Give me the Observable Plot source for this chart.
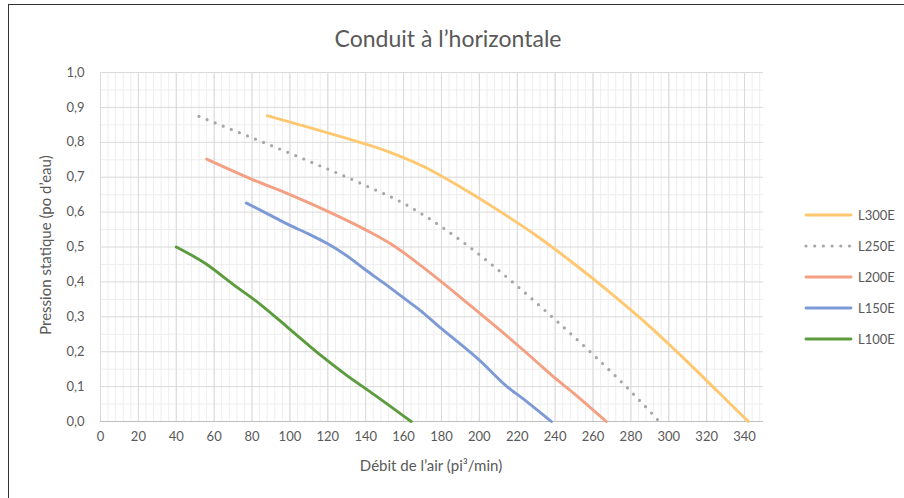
<!DOCTYPE html>
<html>
<head>
<meta charset="utf-8">
<script src="https://cdn.jsdelivr.net/npm/d3@7"></script>
<script src="https://cdn.jsdelivr.net/npm/@observablehq/plot@0.6"></script>
<style>
  html, body { margin: 0; padding: 0; background: #fff; }
  #wrap { position: relative; width: 904px; height: 498px; overflow: hidden; font-family: Lato, "Open Sans", sans-serif; color: #595959; }
  #frame { position: absolute; left: 8px; top: 4px; width: 900px; height: 500px; border-left: 1.5px solid #333; border-top: 1.5px solid #333; box-sizing: border-box; pointer-events: none; }
  #title { position: absolute; left: 0; width: 896px; top: 24px; text-align: center; font-size: 23px; }
  #labels { position: absolute; left: 0; top: 0; pointer-events: none; }
  #legend { position: absolute; left: 804px; top: 0; }
  .li { position: absolute; left: 0; height: 20px; display: flex; align-items: center; font-size: 13px; white-space: nowrap; }
  .li svg { margin-right: 5px; }
  #chart { position: absolute; left: 0; top: 0; }
</style>
</head>
<body>
<div id="wrap">
  <div id="chart"></div>
  <div id="title">Conduit à l’horizontale</div>
  <svg id="labels" width="904" height="498" font-family="Lato, 'Open Sans', sans-serif" fill="#595959" font-size="15">
    <text transform="translate(47,245) rotate(-90)" text-anchor="middle" dominant-baseline="middle">Pression statique (po d’eau)</text>
    <text x="431" y="467" text-anchor="middle" dominant-baseline="middle">Débit de l’air (pi³/min)</text>
  </svg>
  <div id="legend"></div>
  <div id="frame"></div>
</div>
<script>
// ---- Data ----
const seriesNames = ["L300E", "L250E", "L200E", "L150E", "L100E"];
const seriesColors = ["#FFC870", "#A6A6A6", "#F3A083", "#7E9AD6", "#5C9C3E"];

// airflow (pi³/min) and static pressure (po d'eau)
const L300E_x = [88, 110, 130, 150, 170, 190, 210, 230, 250, 270, 290, 310, 326, 342];
const L300E_y = [0.876, 0.843, 0.811, 0.777, 0.732, 0.672, 0.605, 0.533, 0.452, 0.365, 0.272, 0.17, 0.085, 0];

const L250E_x = [52, 80, 110, 140, 160, 180, 200, 220, 240, 260, 280, 295];
const L250E_y = [0.874, 0.813, 0.746, 0.676, 0.625, 0.558, 0.478, 0.388, 0.292, 0.192, 0.086, 0];

const L200E_x = [56, 80, 100, 120, 140, 155, 170, 190, 210, 230, 240, 250, 267];
const L200E_y = [0.752, 0.694, 0.65, 0.602, 0.549, 0.503, 0.443, 0.356, 0.266, 0.172, 0.124, 0.08, 0];

const L150E_x = [77, 90, 100, 110, 120, 130, 140, 150, 160, 170, 180, 190, 200, 214, 225, 238];
const L150E_y = [0.626, 0.59, 0.562, 0.537, 0.509, 0.475, 0.434, 0.395, 0.354, 0.313, 0.266, 0.222, 0.176, 0.103, 0.057, 0];

const L100E_x = [40, 55, 70, 85, 100, 115, 130, 145, 164];
const L100E_y = [0.5, 0.454, 0.393, 0.333, 0.264, 0.195, 0.132, 0.075, 0];

// axis ticks
const xTicks = [0, 20, 40, 60, 80, 100, 120, 140, 160, 180, 200, 220, 240, 260, 280, 300, 320, 340];
const yTicks = [0, 0.1, 0.2, 0.3, 0.4, 0.5, 0.6, 0.7, 0.8, 0.9, 1.0];
const xMinorTicks = d3.range(0, 350, 4);
const yMinorTicks = [0.05, 0.15, 0.25, 0.35, 0.45, 0.55, 0.65, 0.75, 0.85, 0.95];

// ---- Build table ----
const xs = [L300E_x, L250E_x, L200E_x, L150E_x, L100E_x];
const ys = [L300E_y, L250E_y, L200E_y, L150E_y, L100E_y];
const rows = seriesNames.map((name, i) => xs[i].map((x, j) => ({series: name, x, y: ys[i][j]})));

const fmt = d => d3.format(".1f")(d).replace(".", ",");

const lineMarks = rows.map((data, i) => {
  const dotted = seriesNames[i] === "L250E";
  return Plot.line(data, {
    x: "x", y: "y", curve: "monotone-x",
    stroke: seriesColors[i],
    strokeWidth: dotted ? 3.2 : 2.9,
    strokeDasharray: dotted ? "0 8.7" : null,
    strokeLinecap: "round"
  });
});

const chart = Plot.plot({
  width: 904,
  height: 498,
  marginLeft: 100,
  marginRight: 141,
  marginTop: 72,
  marginBottom: 77,
  x: {domain: [0, 350]},
  y: {domain: [0, 1]},
  style: {fontFamily: "Lato, 'Open Sans', sans-serif", fontSize: "13px", color: "#595959", background: "transparent", overflow: "visible"},
  marks: [
    Plot.ruleX(xMinorTicks, {stroke: "#EEEEEE", strokeWidth: 1}),
    Plot.ruleY(yMinorTicks, {stroke: "#EEEEEE", strokeWidth: 1}),
    Plot.ruleX(xTicks, {stroke: "#D9D9D9", strokeWidth: 1}),
    Plot.ruleY(yTicks, {stroke: "#D9D9D9", strokeWidth: 1}),
    Plot.ruleY([0], {stroke: "#BFBFBF", strokeWidth: 1}),
    Plot.axisX({ticks: xTicks, tickSize: 0, tickPadding: 10, label: null, tickFormat: d => String(d)}),
    Plot.axisY({ticks: yTicks, tickSize: 0, tickPadding: 16, label: null, tickFormat: fmt}),
    ...lineMarks
  ]
});
document.getElementById("chart").appendChild(chart);

// ---- Legend ----
const legend = document.getElementById("legend");
const legendY = [215, 246, 277, 308, 339];
seriesNames.forEach((name, i) => {
  const dotted = name === "L250E";
  const item = document.createElement("div");
  item.className = "li";
  item.style.top = (legendY[i] - 10) + "px";
  item.innerHTML = `<svg width="49" height="8"><line x1="2" x2="47" y1="4" y2="4" stroke="${seriesColors[i]}" stroke-width="${dotted ? 3.2 : 2.9}" stroke-linecap="round" ${dotted ? 'stroke-dasharray="0 8.7"' : ''}/></svg><span>${name}</span>`;
  legend.appendChild(item);
});
</script>
</body>
</html>
